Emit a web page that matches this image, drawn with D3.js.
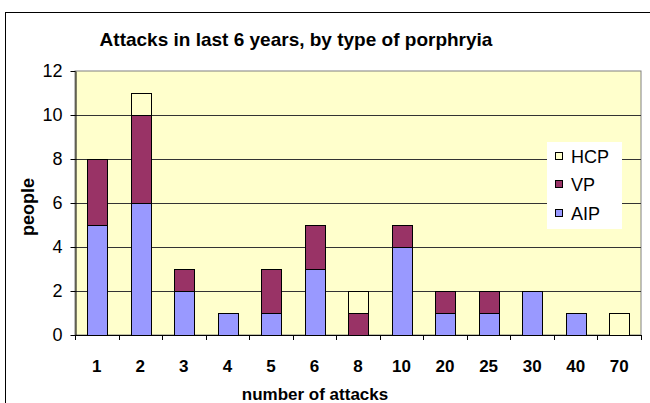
<!DOCTYPE html>
<html>
<head>
<meta charset="utf-8">
<script src="https://cdn.jsdelivr.net/npm/d3@7/dist/d3.min.js"></script>
<style>
  html, body { margin: 0; padding: 0; background: #fff; }
  svg { display: block; font-family: Arial, "Liberation Sans", sans-serif; }
</style>
</head>
<body>
<svg id="chart" width="650" height="403"></svg>
<script>
// Number of attacks in the last 6 years (category axis)
const categories = ["1", "2", "3", "4", "5", "6", "8", "10", "20", "25", "30", "40", "70"];
// People per porphyria type, stacked bottom to top: AIP, VP, HCP
const aip = [5, 6, 2, 1, 1, 3, 0, 4, 1, 1, 2, 1, 0];
const vp  = [3, 4, 1, 0, 2, 2, 1, 1, 1, 1, 0, 0, 0];
const hcp = [0, 1, 0, 0, 0, 0, 1, 0, 0, 0, 0, 0, 1];
const seriesNames = ["AIP", "VP", "HCP"];
const seriesColors = ["#9999FF", "#993366", "#FFFFCC"];
const yTicks = [0, 2, 4, 6, 8, 10, 12];

const svg = d3.select("#chart");

// Outer chart frame
svg.append("rect")
  .attr("x", 5.5).attr("y", 12.5).attr("width", 660).attr("height", 420)
  .attr("fill", "#fff").attr("stroke", "#000").attr("stroke-width", 1);

const plot = { left: 75, right: 641, top: 71, bottom: 335 };

const x = d3.scaleBand().domain(categories)
  .range([plot.left, plot.right]).paddingInner(0.55).paddingOuter(0.275);
const xEdge = d3.scaleBand().domain(categories).range([plot.left, plot.right]);
const y = d3.scaleLinear().domain([0, 12]).range([plot.bottom, plot.top]);

// Plot background
svg.append("rect")
  .attr("x", plot.left).attr("y", plot.top)
  .attr("width", plot.right - plot.left).attr("height", plot.bottom - plot.top)
  .attr("fill", "#FFFFCC").attr("stroke", "#808080").attr("stroke-width", 1);

// Horizontal gridlines
svg.append("g").selectAll("line")
  .data(yTicks.filter(d => d > 0 && d < 12))
  .join("line")
  .attr("x1", plot.left).attr("x2", plot.right)
  .attr("y1", d => Math.round(y(d)) + 0.5).attr("y2", d => Math.round(y(d)) + 0.5)
  .attr("stroke", "#333").attr("stroke-width", 1);

// Stacked bars
const rows = categories.map((c, i) => ({ cat: c, AIP: aip[i], VP: vp[i], HCP: hcp[i] }));
const stacked = d3.stack().keys(seriesNames)(rows);

svg.append("g").selectAll("g")
  .data(stacked)
  .join("g")
  .attr("fill", (d, i) => seriesColors[i])
  .selectAll("rect")
  .data(d => d.filter(p => p[1] - p[0] > 0))
  .join("rect")
  .attr("x", d => Math.round(x(d.data.cat)) + 0.5)
  .attr("y", d => Math.round(y(d[1])) + 0.5)
  .attr("width", Math.round(x.bandwidth()))
  .attr("height", d => Math.round(y(d[0])) - Math.round(y(d[1])))
  .attr("stroke", "#000").attr("stroke-width", 1);

// Y axis
const yAxis = svg.append("g")
  .attr("transform", `translate(${plot.left + 0.5},0)`)
  .call(d3.axisLeft(y).tickValues(yTicks).tickSize(5).tickSizeOuter(0).tickPadding(8));
yAxis.select(".domain").attr("stroke", "#000");
yAxis.selectAll(".tick line").attr("stroke", "#000");
yAxis.selectAll("text").attr("font-size", 18).attr("fill", "#000")
  .attr("font-family", "Arial, 'Liberation Sans', sans-serif");

// X axis line with separators between categories
const xg = svg.append("g");
xg.append("line")
  .attr("x1", plot.left).attr("x2", plot.right)
  .attr("y1", plot.bottom + 0.5).attr("y2", plot.bottom + 0.5)
  .attr("stroke", "#000");
const edges = categories.map(c => xEdge(c)).concat([plot.right]);
xg.selectAll("line.sep")
  .data(edges)
  .join("line").attr("class", "sep")
  .attr("x1", d => Math.round(d) + 0.5).attr("x2", d => Math.round(d) + 0.5)
  .attr("y1", plot.bottom).attr("y2", plot.bottom + 5)
  .attr("stroke", "#000");
xg.selectAll("text")
  .data(categories)
  .join("text")
  .attr("x", d => x(d) + x.bandwidth() / 2)
  .attr("y", 372)
  .attr("text-anchor", "middle")
  .attr("font-size", 17).attr("font-weight", "bold")
  .text(d => d);

// Titles
svg.append("text")
  .attr("x", 296).attr("y", 46)
  .attr("text-anchor", "middle")
  .attr("font-size", 19).attr("font-weight", "bold")
  .text("Attacks in last 6 years, by type of porphryia");

svg.append("text")
  .attr("x", 315).attr("y", 400)
  .attr("text-anchor", "middle")
  .attr("font-size", 17).attr("font-weight", "bold")
  .text("number of attacks");

svg.append("text")
  .attr("transform", "translate(34,207) rotate(-90)")
  .attr("text-anchor", "middle")
  .attr("font-size", 18).attr("font-weight", "bold")
  .text("people");

// Legend (HCP on top, AIP at bottom)
const legend = svg.append("g");
legend.append("rect")
  .attr("x", 547).attr("y", 142).attr("width", 75).attr("height", 87)
  .attr("fill", "#fff");
const legendOrder = [2, 1, 0];
const legendY = [156, 184, 213];
legendOrder.forEach((si, k) => {
  legend.append("rect")
    .attr("x", 555.5).attr("y", legendY[k] - 3.5)
    .attr("width", 7).attr("height", 7)
    .attr("fill", seriesColors[si]).attr("stroke", "#000");
  legend.append("text")
    .attr("x", 571).attr("y", legendY[k] + 6.5)
    .attr("font-size", 18)
    .text(seriesNames[si]);
});
</script>
</body>
</html>
